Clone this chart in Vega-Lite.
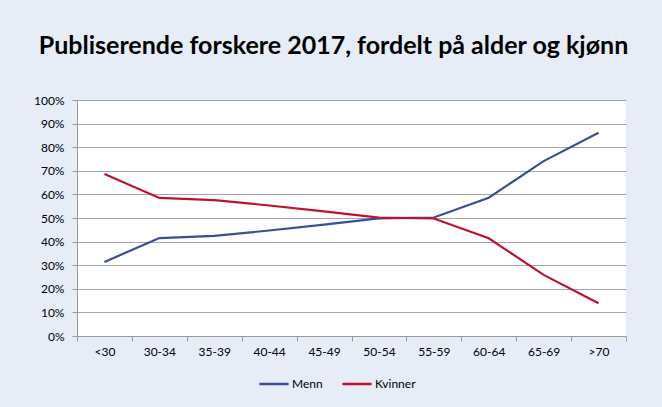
{
  "$schema": "https://vega.github.io/schema/vega-lite/v6.json",
  "autosize": {"type": "none"},
  "width": 549,
  "height": 236,
  "padding": {"left": 77, "top": 100, "right": 36, "bottom": 71},
  "background": "#E6EDF7",
  "title": {
    "text": "Publiserende forskere 2017, fordelt på alder og kjønn",
    "font": "Lato",
    "fontSize": 25,
    "fontWeight": "bold",
    "color": "#000000",
    "anchor": "middle",
    "dx": -18,
    "offset": 35
  },
  "data": {
    "values": [
      {"alder": "<30", "kjonn": "Menn", "andel": 0.314},
      {"alder": "30-34", "kjonn": "Menn", "andel": 0.415},
      {"alder": "35-39", "kjonn": "Menn", "andel": 0.424},
      {"alder": "40-44", "kjonn": "Menn", "andel": 0.447},
      {"alder": "45-49", "kjonn": "Menn", "andel": 0.472},
      {"alder": "50-54", "kjonn": "Menn", "andel": 0.498},
      {"alder": "55-59", "kjonn": "Menn", "andel": 0.502},
      {"alder": "60-64", "kjonn": "Menn", "andel": 0.586},
      {"alder": "65-69", "kjonn": "Menn", "andel": 0.741},
      {"alder": ">70", "kjonn": "Menn", "andel": 0.861},
      {"alder": "<30", "kjonn": "Kvinner", "andel": 0.686},
      {"alder": "30-34", "kjonn": "Kvinner", "andel": 0.585},
      {"alder": "35-39", "kjonn": "Kvinner", "andel": 0.576},
      {"alder": "40-44", "kjonn": "Kvinner", "andel": 0.553},
      {"alder": "45-49", "kjonn": "Kvinner", "andel": 0.528},
      {"alder": "50-54", "kjonn": "Kvinner", "andel": 0.502},
      {"alder": "55-59", "kjonn": "Kvinner", "andel": 0.498},
      {"alder": "60-64", "kjonn": "Kvinner", "andel": 0.414},
      {"alder": "65-69", "kjonn": "Kvinner", "andel": 0.259},
      {"alder": ">70", "kjonn": "Kvinner", "andel": 0.139}
    ]
  },
  "mark": {"type": "line", "strokeWidth": 2.2},
  "encoding": {
    "x": {
      "field": "alder",
      "type": "nominal",
      "sort": null,
      "bandPosition": 0.5,
      "scale": {"type": "band", "paddingInner": 0, "paddingOuter": 0},
      "axis": {
        "title": null,
        "labelAngle": 0,
        "tickBand": "extent",
        "tickSize": 5,
        "labelPadding": 5,
        "domainColor": "#9A9A9A",
        "tickColor": "#9A9A9A",
        "grid": false
      }
    },
    "y": {
      "field": "andel",
      "type": "quantitative",
      "scale": {"domain": [0, 1], "nice": false},
      "axis": {
        "title": null,
        "format": ".0%",
        "values": [0, 0.1, 0.2, 0.3, 0.4, 0.5, 0.6, 0.7, 0.8, 0.9, 1],
        "tickSize": 5,
        "labelPadding": 8,
        "domainColor": "#9A9A9A",
        "tickColor": "#9A9A9A",
        "grid": true,
        "gridColor": "#A6A6A6",
        "gridWidth": 1
      }
    },
    "color": {
      "field": "kjonn",
      "type": "nominal",
      "sort": ["Menn", "Kvinner"],
      "scale": {"domain": ["Menn", "Kvinner"], "range": ["#3A4D96", "#C0102F"]},
      "legend": {
        "title": null,
        "orient": "none",
        "direction": "horizontal",
        "legendX": 181,
        "legendY": 268,
        "symbolType": "stroke",
        "symbolSize": 850,
        "symbolStrokeWidth": 2.5,
        "labelFontSize": 12,
        "labelOffset": 2,
        "columnPadding": 14
      }
    }
  },
  "config": {
    "font": "Lato",
    "view": {"fill": "#FFFFFF", "stroke": null},
    "axis": {"labelFont": "Lato", "labelFontSize": 12, "labelColor": "#000000"},
    "legend": {"labelFont": "Lato", "labelColor": "#000000"}
  }
}
